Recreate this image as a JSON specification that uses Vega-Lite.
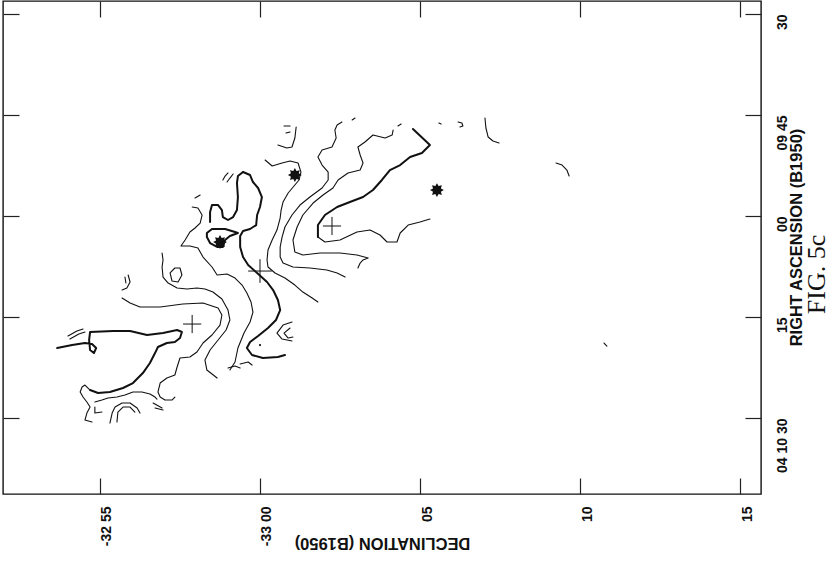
{
  "$schema": "https://vega.github.io/schema/vega-lite/v6.json",
  "width": 758,
  "height": 493,
  "autosize": {"type": "none"},
  "padding": {"left": 3, "top": 1, "right": 72, "bottom": 80},
  "background": "white",
  "title": {"text": "FIG. 5c", "orient": "right", "angle": 270, "baseline": "top", "font": "Liberation Serif", "fontSize": 26, "fontWeight": "normal", "anchor": "middle", "color": "#111", "offset": -27, "dx": -27},
  "config": {
    "view": {"stroke": "#111", "strokeWidth": 1.4},
    "axis": {"labelFont": "Liberation Sans", "labelFontWeight": "bold", "labelFontSize": 14, "labelColor": "#111", "titleFont": "Liberation Sans", "titleFontWeight": "bold", "titleFontSize": 16.5, "titleColor": "#111", "tickColor": "#222", "tickWidth": 1.2, "tickSize": -16, "domain": false, "grid": false, "labelOverlap": false, "labelBound": false, "labelFlush": false}
  },
  "datasets": {
    "lines": [
      {"g":"U1a","w":"heavy","o":1,"dec":64.78,"ra":47.08},{"g":"U1a","w":"heavy","o":2,"dec":65.31,"ra":49.46},{"g":"U1a","w":"heavy","o":3,"dec":65.06,"ra":50.64},{"g":"U1a","w":"heavy","o":4,"dec":64.69,"ra":51.24},{"g":"U1a","w":"heavy","o":5,"dec":64.38,"ra":52.43},{"g":"U1a","w":"heavy","o":6,"dec":64.06,"ra":53.17},{"g":"U1a","w":"heavy","o":7,"dec":63.81,"ra":54.65},{"g":"U1a","w":"heavy","o":8,"dec":63.53,"ra":56.14},{"g":"U1a","w":"heavy","o":9,"dec":63.22,"ra":57.18},{"g":"U1a","w":"heavy","o":10,"dec":62.81,"ra":57.92},{"g":"U1a","w":"heavy","o":11,"dec":62.41,"ra":58.66},{"g":"U1a","w":"heavy","o":12,"dec":62.03,"ra":59.85},{"g":"U1a","w":"heavy","o":13,"dec":61.81,"ra":61.34},{"g":"U1a","w":"heavy","o":14,"dec":61.81,"ra":63.12},
      {"g":"U1b","w":"thin","o":1,"dec":61.81,"ra":63.12},{"g":"U1b","w":"thin","o":2,"dec":62.03,"ra":63.86},{"g":"U1b","w":"thin","o":3,"dec":62.50,"ra":63.56},{"g":"U1b","w":"thin","o":4,"dec":63.03,"ra":62.38},{"g":"U1b","w":"thin","o":5,"dec":63.44,"ra":62.08},{"g":"U1b","w":"thin","o":6,"dec":63.75,"ra":62.82},{"g":"U1b","w":"thin","o":7,"dec":63.97,"ra":63.86},{"g":"U1b","w":"thin","o":8,"dec":64.28,"ra":63.86},{"g":"U1b","w":"thin","o":9,"dec":64.38,"ra":62.52},{"g":"U1b","w":"thin","o":10,"dec":64.63,"ra":61.34},{"g":"U1b","w":"thin","o":11,"dec":65.00,"ra":60.89},{"g":"U1b","w":"thin","o":12,"dec":65.31,"ra":60.45},
      {"g":"U2","w":"thin","o":1,"dec":64.16,"ra":47.23},{"g":"U2","w":"thin","o":2,"dec":64.13,"ra":47.97},{"g":"U2","w":"thin","o":3,"dec":63.91,"ra":48.42},{"g":"U2","w":"thin","o":4,"dec":63.53,"ra":47.97},{"g":"U2","w":"thin","o":5,"dec":63.28,"ra":49.01},{"g":"U2","w":"thin","o":6,"dec":63.06,"ra":49.75},{"g":"U2","w":"thin","o":7,"dec":63.13,"ra":50.94},{"g":"U2","w":"thin","o":8,"dec":63.22,"ra":52.13},{"g":"U2","w":"thin","o":9,"dec":63.13,"ra":53.17},{"g":"U2","w":"thin","o":10,"dec":62.75,"ra":53.61},{"g":"U2","w":"thin","o":11,"dec":62.44,"ra":54.65},{"g":"U2","w":"thin","o":12,"dec":62.28,"ra":55.84},{"g":"U2","w":"thin","o":13,"dec":61.97,"ra":56.88},{"g":"U2","w":"thin","o":14,"dec":61.66,"ra":58.07},{"g":"U2","w":"thin","o":15,"dec":61.34,"ra":59.85},{"g":"U2","w":"thin","o":16,"dec":61.16,"ra":61.63},{"g":"U2","w":"thin","o":17,"dec":61.03,"ra":63.56},{"g":"U2","w":"thin","o":18,"dec":61.09,"ra":65.35},{"g":"U2","w":"thin","o":19,"dec":61.34,"ra":65.79},{"g":"U2","w":"thin","o":20,"dec":61.88,"ra":65.49},{"g":"U2","w":"thin","o":21,"dec":62.50,"ra":65.49},{"g":"U2","w":"thin","o":22,"dec":63.03,"ra":65.79},{"g":"U2","w":"thin","o":23,"dec":63.38,"ra":66.24},{"g":"U2","w":"thin","o":24,"dec":63.22,"ra":66.53},{"g":"U2","w":"thin","o":25,"dec":63.13,"ra":66.98},{"g":"U2","w":"thin","o":26,"dec":63.06,"ra":67.72},
      {"g":"U3","w":"thin","o":1,"dec":62.56,"ra":46.04},{"g":"U3","w":"thin","o":2,"dec":62.41,"ra":46.49},{"g":"U3","w":"thin","o":3,"dec":62.34,"ra":47.23},{"g":"U3","w":"thin","o":4,"dec":62.38,"ra":48.42},{"g":"U3","w":"thin","o":5,"dec":62.25,"ra":49.75},{"g":"U3","w":"thin","o":6,"dec":61.94,"ra":50.20},{"g":"U3","w":"thin","o":7,"dec":61.81,"ra":51.24},{"g":"U3","w":"thin","o":8,"dec":61.94,"ra":52.43},{"g":"U3","w":"thin","o":9,"dec":62.13,"ra":53.47},{"g":"U3","w":"thin","o":10,"dec":62.13,"ra":54.65},{"g":"U3","w":"thin","o":11,"dec":61.94,"ra":55.84},{"g":"U3","w":"thin","o":12,"dec":61.56,"ra":57.18},{"g":"U3","w":"thin","o":13,"dec":61.25,"ra":58.37},{"g":"U3","w":"thin","o":14,"dec":61.00,"ra":59.85},{"g":"U3","w":"thin","o":15,"dec":60.78,"ra":61.63},{"g":"U3","w":"thin","o":16,"dec":60.69,"ra":63.12},{"g":"U3","w":"thin","o":17,"dec":60.63,"ra":64.60},{"g":"U3","w":"thin","o":18,"dec":60.63,"ra":66.09},{"g":"U3","w":"thin","o":19,"dec":60.72,"ra":66.98},{"g":"U3","w":"thin","o":20,"dec":61.03,"ra":67.57},{"g":"U3","w":"thin","o":21,"dec":61.56,"ra":67.72},{"g":"U3","w":"thin","o":22,"dec":62.09,"ra":68.02},{"g":"U3","w":"thin","o":23,"dec":62.41,"ra":68.46},{"g":"U3","w":"thin","o":24,"dec":62.66,"ra":69.06},
      {"g":"U4","w":"thin","o":1,"dec":60.16,"ra":51.68},{"g":"U4","w":"thin","o":2,"dec":60.38,"ra":52.57},{"g":"U4","w":"thin","o":3,"dec":60.69,"ra":52.13},{"g":"U4","w":"thin","o":4,"dec":60.94,"ra":51.83},{"g":"U4","w":"thin","o":5,"dec":61.19,"ra":52.13},{"g":"U4","w":"thin","o":6,"dec":61.28,"ra":53.47},{"g":"U4","w":"thin","o":7,"dec":61.22,"ra":54.65},{"g":"U4","w":"thin","o":8,"dec":60.88,"ra":56.58},{"g":"U4","w":"thin","o":9,"dec":60.72,"ra":57.92},{"g":"U4","w":"thin","o":10,"dec":60.66,"ra":59.11},{"g":"U4","w":"thin","o":11,"dec":60.63,"ra":60.30},{"g":"U4","w":"thin","o":12,"dec":60.53,"ra":62.08},{"g":"U4","w":"thin","o":13,"dec":60.38,"ra":63.56},{"g":"U4","w":"thin","o":14,"dec":60.25,"ra":65.05},{"g":"U4","w":"thin","o":15,"dec":60.22,"ra":66.53},{"g":"U4","w":"thin","o":16,"dec":60.25,"ra":67.57},{"g":"U4","w":"thin","o":17,"dec":60.47,"ra":68.46},{"g":"U4","w":"thin","o":18,"dec":60.78,"ra":69.21},{"g":"U4","w":"thin","o":19,"dec":61.09,"ra":70.25},{"g":"U4","w":"thin","o":20,"dec":61.34,"ra":71.29},{"g":"U4","w":"thin","o":21,"dec":61.63,"ra":72.18},{"g":"U4","w":"thin","o":22,"dec":61.81,"ra":72.77},
      {"g":"E","w":"heavy","o":1,"dec":59.47,"ra":53.47},{"g":"E","w":"heavy","o":2,"dec":59.69,"ra":53.91},{"g":"E","w":"heavy","o":3,"dec":59.78,"ra":54.95},{"g":"E","w":"heavy","o":4,"dec":59.94,"ra":55.84},{"g":"E","w":"heavy","o":5,"dec":60.06,"ra":57.18},{"g":"E","w":"heavy","o":6,"dec":60.00,"ra":58.66},{"g":"E","w":"heavy","o":7,"dec":59.91,"ra":59.85},{"g":"E","w":"heavy","o":8,"dec":59.88,"ra":61.34},{"g":"E","w":"heavy","o":9,"dec":59.69,"ra":61.93},{"g":"E","w":"heavy","o":10,"dec":59.47,"ra":62.23},{"g":"E","w":"heavy","o":11,"dec":59.38,"ra":62.97},{"g":"E","w":"heavy","o":12,"dec":59.38,"ra":64.60},{"g":"E","w":"heavy","o":13,"dec":59.47,"ra":66.09},{"g":"E","w":"heavy","o":14,"dec":59.63,"ra":67.28},{"g":"E","w":"heavy","o":15,"dec":59.91,"ra":68.46},{"g":"E","w":"heavy","o":16,"dec":60.22,"ra":69.80},{"g":"E","w":"heavy","o":17,"dec":60.41,"ra":70.99},{"g":"E","w":"heavy","o":18,"dec":60.56,"ra":72.47},{"g":"E","w":"heavy","o":19,"dec":60.63,"ra":73.96},{"g":"E","w":"heavy","o":20,"dec":60.50,"ra":75.44},{"g":"E","w":"heavy","o":21,"dec":60.25,"ra":76.63},{"g":"E","w":"heavy","o":22,"dec":59.94,"ra":77.82},{"g":"E","w":"heavy","o":23,"dec":59.69,"ra":78.71},{"g":"E","w":"heavy","o":24,"dec":59.59,"ra":79.60},{"g":"E","w":"heavy","o":25,"dec":59.75,"ra":80.64},{"g":"E","w":"heavy","o":26,"dec":60.09,"ra":81.09},{"g":"E","w":"heavy","o":27,"dec":60.56,"ra":80.94},{"g":"E","w":"heavy","o":28,"dec":60.78,"ra":80.64},
      {"g":"Etop","w":"heavy","o":1,"dec":59.47,"ra":53.47},{"g":"Etop","w":"heavy","o":2,"dec":59.31,"ra":54.06},{"g":"Etop","w":"heavy","o":3,"dec":59.28,"ra":55.10},{"g":"Etop","w":"heavy","o":4,"dec":59.31,"ra":57.18},{"g":"Etop","w":"heavy","o":5,"dec":59.28,"ra":59.11},{"g":"Etop","w":"heavy","o":6,"dec":59.16,"ra":60.15},{"g":"Etop","w":"heavy","o":7,"dec":59.00,"ra":60.59},{"g":"Etop","w":"heavy","o":8,"dec":58.84,"ra":60.15},{"g":"Etop","w":"heavy","o":9,"dec":58.81,"ra":59.11},{"g":"Etop","w":"heavy","o":10,"dec":58.69,"ra":58.37},{"g":"Etop","w":"heavy","o":11,"dec":58.50,"ra":58.37},{"g":"Etop","w":"heavy","o":12,"dec":58.44,"ra":59.41},{"g":"Etop","w":"heavy","o":13,"dec":58.44,"ra":60.89},
      {"g":"Loop","w":"heavy","o":1,"dec":58.34,"ra":62.52},{"g":"Loop","w":"heavy","o":2,"dec":58.50,"ra":61.93},{"g":"Loop","w":"heavy","o":3,"dec":58.91,"ra":61.93},{"g":"Loop","w":"heavy","o":4,"dec":59.22,"ra":62.38},{"g":"Loop","w":"heavy","o":5,"dec":59.31,"ra":62.52},{"g":"Loop","w":"heavy","o":6,"dec":59.06,"ra":62.97},{"g":"Loop","w":"heavy","o":7,"dec":58.91,"ra":63.56},{"g":"Loop","w":"heavy","o":8,"dec":58.84,"ra":64.60},{"g":"Loop","w":"heavy","o":9,"dec":58.66,"ra":64.60},{"g":"Loop","w":"heavy","o":10,"dec":58.44,"ra":64.01},{"g":"Loop","w":"heavy","o":11,"dec":58.34,"ra":63.12},{"g":"Loop","w":"heavy","o":12,"dec":58.34,"ra":62.52},
      {"g":"A1","w":"thin","o":1,"dec":59.00,"ra":53.61},{"g":"A1","w":"thin","o":2,"dec":58.91,"ra":54.06},{"g":"A1","w":"thin","o":3,"dec":58.84,"ra":54.65},
      {"g":"A2","w":"thin","o":1,"dec":59.16,"ra":53.76},{"g":"A2","w":"thin","o":2,"dec":59.06,"ra":54.36},{"g":"A2","w":"thin","o":3,"dec":58.97,"ra":54.95},
      {"g":"Fr1","w":"thin","o":1,"dec":57.97,"ra":57.33},{"g":"Fr1","w":"thin","o":2,"dec":58.13,"ra":56.88},
      {"g":"FI","w":"thin","o":1,"dec":57.88,"ra":58.66},{"g":"FI","w":"thin","o":2,"dec":58.06,"ra":58.81},{"g":"FI","w":"thin","o":3,"dec":58.19,"ra":59.85},{"g":"FI","w":"thin","o":4,"dec":58.13,"ra":61.04},{"g":"FI","w":"thin","o":5,"dec":57.97,"ra":61.78},{"g":"FI","w":"thin","o":6,"dec":57.81,"ra":62.38},{"g":"FI","w":"thin","o":7,"dec":57.66,"ra":63.56},{"g":"FI","w":"thin","o":8,"dec":57.53,"ra":64.45},{"g":"FI","w":"thin","o":9,"dec":57.81,"ra":64.45},{"g":"FI","w":"thin","o":10,"dec":58.06,"ra":64.75},{"g":"FI","w":"thin","o":11,"dec":58.22,"ra":66.09},{"g":"FI","w":"thin","o":12,"dec":58.50,"ra":67.57},{"g":"FI","w":"thin","o":13,"dec":58.66,"ra":68.76},{"g":"FI","w":"thin","o":14,"dec":58.97,"ra":68.61},{"g":"FI","w":"thin","o":15,"dec":59.22,"ra":69.21},{"g":"FI","w":"thin","o":16,"dec":59.44,"ra":70.25},{"g":"FI","w":"thin","o":17,"dec":59.59,"ra":71.43},{"g":"FI","w":"thin","o":18,"dec":59.72,"ra":72.77},{"g":"FI","w":"thin","o":19,"dec":59.78,"ra":74.26},{"g":"FI","w":"thin","o":20,"dec":59.69,"ra":75.74},{"g":"FI","w":"thin","o":21,"dec":59.50,"ra":77.38},{"g":"FI","w":"thin","o":22,"dec":59.31,"ra":79.60},{"g":"FI","w":"thin","o":23,"dec":59.22,"ra":81.68},{"g":"FI","w":"thin","o":24,"dec":59.06,"ra":82.87},
      {"g":"G","w":"thin","o":1,"dec":56.94,"ra":65.49},{"g":"G","w":"thin","o":2,"dec":56.97,"ra":66.53},{"g":"G","w":"thin","o":3,"dec":56.94,"ra":67.57},{"g":"G","w":"thin","o":4,"dec":56.97,"ra":69.06},{"g":"G","w":"thin","o":5,"dec":57.13,"ra":69.95},{"g":"G","w":"thin","o":6,"dec":57.41,"ra":70.69},{"g":"G","w":"thin","o":7,"dec":57.72,"ra":70.84},{"g":"G","w":"thin","o":8,"dec":58.03,"ra":70.69},{"g":"G","w":"thin","o":9,"dec":58.28,"ra":70.84},{"g":"G","w":"thin","o":10,"dec":58.53,"ra":71.29},{"g":"G","w":"thin","o":11,"dec":58.81,"ra":72.33},{"g":"G","w":"thin","o":12,"dec":59.00,"ra":73.96},{"g":"G","w":"thin","o":13,"dec":59.06,"ra":75.44},{"g":"G","w":"thin","o":14,"dec":58.94,"ra":76.93},{"g":"G","w":"thin","o":15,"dec":58.69,"ra":78.41},{"g":"G","w":"thin","o":16,"dec":58.44,"ra":79.90},{"g":"G","w":"thin","o":17,"dec":58.28,"ra":81.39},{"g":"G","w":"thin","o":18,"dec":58.34,"ra":82.87},{"g":"G","w":"thin","o":19,"dec":58.66,"ra":84.06},
      {"g":"J","w":"thin","o":1,"dec":55.69,"ra":72.18},{"g":"J","w":"thin","o":2,"dec":55.94,"ra":72.92},{"g":"J","w":"thin","o":3,"dec":56.25,"ra":73.51},{"g":"J","w":"thin","o":4,"dec":56.88,"ra":73.51},{"g":"J","w":"thin","o":5,"dec":57.59,"ra":73.07},{"g":"J","w":"thin","o":6,"dec":58.22,"ra":72.92},{"g":"J","w":"thin","o":7,"dec":58.69,"ra":73.66},{"g":"J","w":"thin","o":8,"dec":58.81,"ra":74.70},{"g":"J","w":"thin","o":9,"dec":58.75,"ra":76.19},{"g":"J","w":"thin","o":10,"dec":58.50,"ra":77.67},{"g":"J","w":"thin","o":11,"dec":58.22,"ra":78.86},{"g":"J","w":"thin","o":12,"dec":58.03,"ra":80.20},{"g":"J","w":"thin","o":13,"dec":57.81,"ra":80.94},{"g":"J","w":"thin","o":14,"dec":57.50,"ra":81.09},{"g":"J","w":"thin","o":15,"dec":57.41,"ra":82.42},{"g":"J","w":"thin","o":16,"dec":57.34,"ra":83.61},{"g":"J","w":"thin","o":17,"dec":57.09,"ra":84.06},{"g":"J","w":"thin","o":18,"dec":56.88,"ra":84.80},{"g":"J","w":"thin","o":19,"dec":56.81,"ra":86.14},{"g":"J","w":"thin","o":20,"dec":56.88,"ra":86.88},{"g":"J","w":"thin","o":21,"dec":57.03,"ra":87.33},{"g":"J","w":"thin","o":22,"dec":57.25,"ra":87.33},{"g":"J","w":"thin","o":23,"dec":57.34,"ra":86.88},
      {"g":"K1","w":"heavy","o":1,"dec":53.66,"ra":79.60},{"g":"K1","w":"heavy","o":2,"dec":54.13,"ra":79.16},{"g":"K1","w":"heavy","o":3,"dec":54.53,"ra":78.86},{"g":"K1","w":"heavy","o":4,"dec":54.75,"ra":79.01},{"g":"K1","w":"heavy","o":5,"dec":54.88,"ra":79.60},{"g":"K1","w":"heavy","o":6,"dec":54.81,"ra":80.35},{"g":"K1","w":"heavy","o":7,"dec":54.69,"ra":79.90},{"g":"K1","w":"heavy","o":8,"dec":54.66,"ra":78.41},{"g":"K1","w":"heavy","o":9,"dec":54.69,"ra":77.23},{"g":"K1","w":"heavy","o":10,"dec":55.41,"ra":77.08},{"g":"K1","w":"heavy","o":11,"dec":55.94,"ra":77.08},{"g":"K1","w":"heavy","o":12,"dec":56.47,"ra":77.67},{"g":"K1","w":"heavy","o":13,"dec":56.97,"ra":77.38},{"g":"K1","w":"heavy","o":14,"dec":57.41,"ra":76.93},{"g":"K1","w":"heavy","o":15,"dec":57.56,"ra":77.23},{"g":"K1","w":"heavy","o":16,"dec":57.50,"ra":78.12},{"g":"K1","w":"heavy","o":17,"dec":57.34,"ra":78.71},{"g":"K1","w":"heavy","o":18,"dec":57.09,"ra":78.86},{"g":"K1","w":"heavy","o":19,"dec":56.81,"ra":79.45},{"g":"K1","w":"heavy","o":20,"dec":56.72,"ra":80.35},{"g":"K1","w":"heavy","o":21,"dec":56.56,"ra":81.83},{"g":"K1","w":"heavy","o":22,"dec":56.34,"ra":83.32},{"g":"K1","w":"heavy","o":23,"dec":56.03,"ra":84.80},{"g":"K1","w":"heavy","o":24,"dec":55.72,"ra":85.54},{"g":"K1","w":"heavy","o":25,"dec":55.31,"ra":86.14},{"g":"K1","w":"heavy","o":26,"dec":54.94,"ra":86.29},{"g":"K1","w":"heavy","o":27,"dec":54.69,"ra":85.84},
      {"g":"K2","w":"thin","o":1,"dec":54.69,"ra":85.84},{"g":"K2","w":"thin","o":2,"dec":54.53,"ra":85.10},{"g":"K2","w":"thin","o":3,"dec":54.44,"ra":85.39},{"g":"K2","w":"thin","o":4,"dec":54.38,"ra":86.14},{"g":"K2","w":"thin","o":5,"dec":54.47,"ra":86.88},{"g":"K2","w":"thin","o":6,"dec":54.59,"ra":87.62},{"g":"K2","w":"thin","o":7,"dec":54.69,"ra":88.37},{"g":"K2","w":"thin","o":8,"dec":54.59,"ra":89.26},{"g":"K2","w":"thin","o":9,"dec":54.53,"ra":90.30},{"g":"K2","w":"thin","o":10,"dec":54.75,"ra":90.59},
      {"g":"W1","w":"thin","o":1,"dec":54.84,"ra":87.62},{"g":"W1","w":"thin","o":2,"dec":55.06,"ra":87.33},{"g":"W1","w":"thin","o":3,"dec":55.25,"ra":87.03},{"g":"W1","w":"thin","o":4,"dec":55.53,"ra":86.88},{"g":"W1","w":"thin","o":5,"dec":55.78,"ra":86.58},{"g":"W1","w":"thin","o":6,"dec":56.03,"ra":86.14},{"g":"W1","w":"thin","o":7,"dec":56.31,"ra":86.14},{"g":"W1","w":"thin","o":8,"dec":56.56,"ra":86.43},{"g":"W1","w":"thin","o":9,"dec":56.72,"ra":86.88},{"g":"W1","w":"thin","o":10,"dec":56.78,"ra":87.18},
      {"g":"W2","w":"thin","o":1,"dec":55.31,"ra":90.74},{"g":"W2","w":"thin","o":2,"dec":55.38,"ra":89.26},{"g":"W2","w":"thin","o":3,"dec":55.47,"ra":88.37},{"g":"W2","w":"thin","o":4,"dec":55.69,"ra":87.77},{"g":"W2","w":"thin","o":5,"dec":55.94,"ra":87.77},{"g":"W2","w":"thin","o":6,"dec":56.16,"ra":88.51},{"g":"W2","w":"thin","o":7,"dec":56.25,"ra":89.26},
      {"g":"W3","w":"thin","o":1,"dec":55.53,"ra":90.59},{"g":"W3","w":"thin","o":2,"dec":55.56,"ra":89.11},{"g":"W3","w":"thin","o":3,"dec":55.72,"ra":88.37},{"g":"W3","w":"thin","o":4,"dec":55.94,"ra":88.37},{"g":"W3","w":"thin","o":5,"dec":56.09,"ra":89.11},
      {"g":"W4","w":"thin","o":1,"dec":54.84,"ra":88.37},{"g":"W4","w":"thin","o":2,"dec":54.84,"ra":89.26},{"g":"W4","w":"thin","o":3,"dec":55.06,"ra":89.11},
      {"g":"W5","w":"thin","o":1,"dec":56.66,"ra":87.77},{"g":"W5","w":"thin","o":2,"dec":56.94,"ra":88.51},
      {"g":"W6","w":"thin","o":1,"dec":56.72,"ra":88.51},{"g":"W6","w":"thin","o":2,"dec":56.97,"ra":88.81},
      {"g":"SA1","w":"thin","o":1,"dec":54.00,"ra":77.82},{"g":"SA1","w":"thin","o":2,"dec":54.28,"ra":77.08},{"g":"SA1","w":"thin","o":3,"dec":54.47,"ra":76.78},
      {"g":"SA2","w":"thin","o":1,"dec":54.06,"ra":78.27},{"g":"SA2","w":"thin","o":2,"dec":54.34,"ra":77.52},{"g":"SA2","w":"thin","o":3,"dec":54.53,"ra":77.23},
      {"g":"S1","w":"thin","o":1,"dec":55.88,"ra":68.76},{"g":"S1","w":"thin","o":2,"dec":55.94,"ra":69.80},{"g":"S1","w":"thin","o":3,"dec":55.84,"ra":70.69},{"g":"S1","w":"thin","o":4,"dec":55.69,"ra":70.99},
      {"g":"S2","w":"thin","o":1,"dec":55.78,"ra":69.06},{"g":"S2","w":"thin","o":2,"dec":55.81,"ra":69.95},
      {"g":"O1","w":"thin","o":1,"dec":57.25,"ra":69.65},{"g":"O1","w":"thin","o":2,"dec":57.19,"ra":68.46},{"g":"O1","w":"thin","o":3,"dec":57.34,"ra":67.72},{"g":"O1","w":"thin","o":4,"dec":57.50,"ra":67.72},{"g":"O1","w":"thin","o":5,"dec":57.56,"ra":68.76},{"g":"O1","w":"thin","o":6,"dec":57.44,"ra":69.80},{"g":"O1","w":"thin","o":7,"dec":57.25,"ra":69.65},
      {"g":"F1","w":"thin","o":1,"dec":60.56,"ra":49.46},{"g":"F1","w":"thin","o":2,"dec":60.84,"ra":49.90},{"g":"F1","w":"thin","o":3,"dec":61.00,"ra":49.75},{"g":"F1","w":"thin","o":4,"dec":61.09,"ra":48.42},{"g":"F1","w":"thin","o":5,"dec":61.13,"ra":46.78},
      {"g":"F2","w":"thin","o":1,"dec":60.75,"ra":46.63},{"g":"F2","w":"thin","o":2,"dec":60.94,"ra":46.63},
      {"g":"F3","w":"thin","o":1,"dec":60.81,"ra":47.67},{"g":"F3","w":"thin","o":2,"dec":60.94,"ra":47.52},
      {"g":"F4","w":"thin","o":1,"dec":62.88,"ra":45.74},{"g":"F4","w":"thin","o":2,"dec":62.97,"ra":45.45},
      {"g":"F5","w":"thin","o":1,"dec":64.31,"ra":46.63},{"g":"F5","w":"thin","o":2,"dec":64.41,"ra":46.34},
      {"g":"F6","w":"thin","o":1,"dec":66.19,"ra":46.04},{"g":"F6","w":"thin","o":2,"dec":66.31,"ra":46.19},{"g":"F6","w":"thin","o":3,"dec":66.34,"ra":46.63},{"g":"F6","w":"thin","o":4,"dec":66.25,"ra":46.78},
      {"g":"F7","w":"thin","o":1,"dec":65.59,"ra":46.19},{"g":"F7","w":"thin","o":2,"dec":65.66,"ra":46.34},
      {"g":"R1","w":"thin","o":1,"dec":67.03,"ra":45.45},{"g":"R1","w":"thin","o":2,"dec":67.06,"ra":46.93},{"g":"R1","w":"thin","o":3,"dec":67.13,"ra":48.27},{"g":"R1","w":"thin","o":4,"dec":67.28,"ra":48.86},{"g":"R1","w":"thin","o":5,"dec":67.47,"ra":49.16},
      {"g":"R2","w":"thin","o":1,"dec":69.25,"ra":52.13},{"g":"R2","w":"thin","o":2,"dec":69.44,"ra":52.43},{"g":"R2","w":"thin","o":3,"dec":69.59,"ra":53.17},{"g":"R2","w":"thin","o":4,"dec":69.66,"ra":54.06},
      {"g":"R3","w":"thin","o":1,"dec":70.75,"ra":78.86},{"g":"R3","w":"thin","o":2,"dec":70.84,"ra":79.31},
      {"g":"C1","w":"thin","o":1,"dec":61.00,"ra":75.74},{"g":"C1","w":"thin","o":2,"dec":60.72,"ra":76.19},{"g":"C1","w":"thin","o":3,"dec":60.53,"ra":77.38},{"g":"C1","w":"thin","o":4,"dec":60.69,"ra":78.27},{"g":"C1","w":"thin","o":5,"dec":61.00,"ra":78.56},
      {"g":"C2","w":"thin","o":1,"dec":60.94,"ra":76.63},{"g":"C2","w":"thin","o":2,"dec":60.75,"ra":77.38},{"g":"C2","w":"thin","o":3,"dec":60.88,"ra":78.12},{"g":"C2","w":"thin","o":4,"dec":61.03,"ra":77.97},
      {"g":"H1","w":"thin","o":1,"dec":59.00,"ra":82.57},{"g":"H1","w":"thin","o":2,"dec":59.22,"ra":82.28},{"g":"H1","w":"thin","o":3,"dec":59.38,"ra":82.57},
      {"g":"H2","w":"thin","o":1,"dec":59.38,"ra":81.98},{"g":"H2","w":"thin","o":2,"dec":59.63,"ra":81.68},{"g":"H2","w":"thin","o":3,"dec":59.75,"ra":82.13}
    ],
    "markers": [
      {"type":"cross","dec":62.25,"ra":61.48},
      {"type":"bigcross","dec":60.00,"ra":68.17},
      {"type":"cross","dec":57.88,"ra":76.04},
      {"type":"star","dec":61.09,"ra":53.91},
      {"type":"star","dec":65.53,"ra":56.14},
      {"type":"star","dec":58.75,"ra":63.86},
      {"type":"dot","dec":60.00,"ra":79.16}
    ]
  },
  "resolve": {"axis": {"x": "independent", "y": "independent"}},
  "layer": [
    {
      "data": {"name": "lines"},
      "mark": {"type": "line", "color": "#111", "strokeCap": "round", "strokeJoin": "round"},
      "encoding": {
        "x": {"field": "dec", "type": "quantitative", "scale": {"domain": [51.969, 75.656], "nice": false, "zero": false},
          "axis": {"orient": "bottom", "values": [55, 60, 65, 70, 75], "labelExpr": "datum.value == 55 ? '-32 55' : datum.value == 60 ? '-33 00' : datum.value == 65 ? '05' : datum.value == 70 ? '10' : '15'", "labelAngle": 270, "labelAlign": "right", "labelBaseline": "top", "labelPadding": 28, "title": "DECLINATION (B1950)", "titleAngle": 180, "titleBaseline": "alphabetic", "titleY": 43}},
        "y": {"field": "ra", "type": "quantitative", "scale": {"domain": [28.07, 101.28], "nice": false, "zero": false, "reverse": true},
          "axis": {"orient": "right", "values": [30, 45, 60, 75, 90], "labelExpr": "datum.value == 30 ? '30' : datum.value == 45 ? '09 45' : datum.value == 60 ? '00' : datum.value == 75 ? '15' : '04 10 30'", "labelAngle": 270, "labelAlign": "right", "labelBaseline": "top", "labelPadding": 30, "title": "RIGHT ASCENSION (B1950)", "titleAngle": 270, "titleBaseline": "top", "titleX": 27, "titleY": 236}},
        "detail": {"field": "g"},
        "order": {"field": "o", "type": "quantitative"},
        "strokeWidth": {"field": "w", "type": "nominal", "scale": {"domain": ["heavy", "thin"], "range": [2.0, 1.1]}, "legend": null}
      }
    },
    {
      "data": {"name": "markers"},
      "transform": [{"filter": "datum.type == 'cross'"}],
      "mark": {"type": "point", "filled": false, "color": "#111", "strokeWidth": 1, "opacity": 1, "size": 330, "shape": "M-1,0L1,0M0,-1L0,1"},
      "encoding": {
        "x": {"field": "dec", "type": "quantitative", "axis": {"orient": "top", "values": [55, 60, 65, 70, 75], "labels": false, "title": null}},
        "y": {"field": "ra", "type": "quantitative", "axis": {"orient": "left", "values": [30, 45, 60, 75, 90], "labels": false, "title": null}}
      }
    },
    {
      "data": {"name": "markers"},
      "transform": [{"filter": "datum.type == 'bigcross'"}],
      "mark": {"type": "point", "filled": false, "color": "#111", "strokeWidth": 1, "opacity": 1, "size": 560, "shape": "M-1,0L1,0M0,-1L0,1"},
      "encoding": {
        "x": {"field": "dec", "type": "quantitative", "axis": null},
        "y": {"field": "ra", "type": "quantitative", "axis": null}
      }
    },
    {
      "data": {"name": "markers"},
      "transform": [{"filter": "datum.type == 'star'"}],
      "mark": {"type": "point", "filled": true, "color": "#111", "opacity": 1, "size": 190, "shape": "M1,0L0.573,0.237L0.707,0.707L0.237,0.573L0,1L-0.237,0.573L-0.707,0.707L-0.573,0.237L-1,0L-0.573,-0.237L-0.707,-0.707L-0.237,-0.573L0,-1L0.237,-0.573L0.707,-0.707L0.573,-0.237Z"},
      "encoding": {
        "x": {"field": "dec", "type": "quantitative", "axis": null},
        "y": {"field": "ra", "type": "quantitative", "axis": null}
      }
    },
    {
      "data": {"name": "markers"},
      "transform": [{"filter": "datum.type == 'dot'"}],
      "mark": {"type": "point", "filled": true, "color": "#111", "opacity": 1, "size": 5, "shape": "circle"},
      "encoding": {
        "x": {"field": "dec", "type": "quantitative", "axis": null},
        "y": {"field": "ra", "type": "quantitative", "axis": null}
      }
    }
  ]
}
